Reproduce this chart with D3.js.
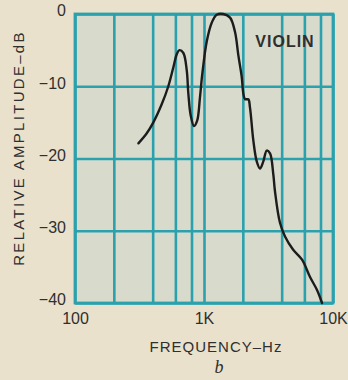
<!DOCTYPE html>
<html>
<head>
<meta charset="utf-8">
<script src="https://cdn.jsdelivr.net/npm/d3@7/dist/d3.min.js"></script>
<style>
  html, body { margin: 0; padding: 0; background: #eae1cc; }
  svg { display: block; }
  text { font-family: "Liberation Sans", Arial, sans-serif; fill: #2f2f2f; }
</style>
</head>
<body>
<svg id="chart" width="348" height="380"></svg>
<script>
// Violin response curve: frequency (Hz) and relative amplitude (dB)
const freqHz = [310, 360, 405, 470, 529, 578, 614, 644, 692, 735, 756, 788, 836, 884, 931, 970,
                1050, 1148, 1255, 1412, 1592, 1740, 1845, 1960, 2018, 2080, 2205, 2274, 2412,
                2563, 2718, 2884, 3065, 3250, 3446, 3548, 3881, 4246, 4897, 5754, 6637, 7518, 8222];
const ampDb  = [-17.9, -16.5, -15.0, -12.5, -10.0, -7.4, -5.6, -5.0, -5.4, -7.8, -11.0, -14.0, -15.5, -14.8, -11.5, -8.3,
                -3.8, -1.2, -0.1, 0, -0.5, -2.5, -5.7, -8.7, -11.0, -11.8, -11.8, -13.0, -17.5,
                -20.4, -21.4, -20.4, -18.9, -19.3, -22.2, -24.5, -28.9, -30.8, -32.6, -34.0, -36.4, -38.2, -40.0];

// Grid and tick definitions
const gridFreqs = [100, 200, 400, 600, 800, 1000, 2000, 4000, 6000, 8000, 10000];
const freqTicks = [100, 1000, 10000];
const freqTickLabels = ["100", "1K", "10K"];
const dbTicks = [0, -10, -20, -30, -40];
const dbTickLabels = ["0", "−10", "−20", "−30", "−40"];

const svg = d3.select("#chart");
const plot = { left: 75, right: 333, top: 14, bottom: 303 };

const x = d3.scaleLog().domain([100, 10000]).range([plot.left, plot.right]);
const y = d3.scaleLinear().domain([-40, 0]).range([plot.bottom, plot.top]);

const teal = "#2aa1ad";
const pw = plot.right - plot.left, ph = plot.bottom - plot.top;

// plot area background
svg.append("rect")
  .attr("x", plot.left).attr("y", plot.top)
  .attr("width", pw).attr("height", ph)
  .attr("fill", "#d8dbcc");

// vertical grid lines
const vGrid = svg.append("g")
  .attr("transform", `translate(0,${plot.bottom})`)
  .call(d3.axisBottom(x).tickValues(gridFreqs).tickSize(-ph).tickFormat(""));
vGrid.select(".domain").remove();
vGrid.selectAll("line").attr("stroke", teal).attr("stroke-width", 2.6);

// horizontal grid lines
const hGrid = svg.append("g")
  .attr("transform", `translate(${plot.left},0)`)
  .call(d3.axisLeft(y).tickValues(dbTicks).tickSize(-pw).tickFormat(""));
hGrid.select(".domain").remove();
hGrid.selectAll("line").attr("stroke", teal).attr("stroke-width", 2.6);

// frame
svg.append("rect")
  .attr("x", plot.left).attr("y", plot.top)
  .attr("width", pw).attr("height", ph)
  .attr("fill", "none").attr("stroke", teal).attr("stroke-width", 2.8);

// y tick labels
const yAxis = svg.append("g")
  .attr("transform", `translate(${plot.left},0)`)
  .call(d3.axisLeft(y).tickValues(dbTicks).tickSize(0).tickPadding(9)
    .tickFormat((d, i) => dbTickLabels[i]));
yAxis.select(".domain").remove();
yAxis.selectAll("text")
  .attr("dy", "0.12em")
  .style("font-size", "16px")
  .style("font-family", "'Liberation Sans', Arial, sans-serif")
  .attr("fill", "#2f2f2f");

// x tick labels
const xAxis = svg.append("g")
  .attr("transform", `translate(0,${plot.bottom})`)
  .call(d3.axisBottom(x).tickValues(freqTicks).tickSize(0).tickPadding(10)
    .tickFormat((d, i) => freqTickLabels[i]));
xAxis.select(".domain").remove();
xAxis.selectAll("text")
  .style("font-size", "16px")
  .style("font-family", "'Liberation Sans', Arial, sans-serif")
  .attr("fill", "#2f2f2f");

// response curve
const line = d3.line()
  .x((d, i) => x(freqHz[i]))
  .y(d => y(d))
  .curve(d3.curveCatmullRom.alpha(0.5));

svg.append("path")
  .datum(ampDb)
  .attr("d", line)
  .attr("fill", "none")
  .attr("stroke", "#1c1c1c")
  .attr("stroke-width", 2.4)
  .attr("stroke-linejoin", "round")
  .attr("stroke-linecap", "round");

// instrument label
svg.append("text")
  .attr("x", 285).attr("y", 47)
  .attr("text-anchor", "middle")
  .style("font-size", "16px")
  .style("font-weight", "bold")
  .style("letter-spacing", "1px")
  .text("VIOLIN");

// axis titles
svg.append("text")
  .attr("x", 216).attr("y", 352)
  .attr("text-anchor", "middle")
  .style("font-size", "15px")
  .style("letter-spacing", "1px")
  .text("FREQUENCY–Hz");

svg.append("text")
  .attr("transform", "translate(24,148) rotate(-90)")
  .attr("text-anchor", "middle")
  .style("font-size", "15px")
  .style("letter-spacing", "2.3px")
  .text("RELATIVE AMPLITUDE–dB");

// panel letter
svg.append("text")
  .attr("x", 219).attr("y", 373)
  .attr("text-anchor", "middle")
  .style("font-family", "'Liberation Serif', serif")
  .style("font-style", "italic")
  .style("font-size", "18px")
  .text("b");
</script>
</body>
</html>
